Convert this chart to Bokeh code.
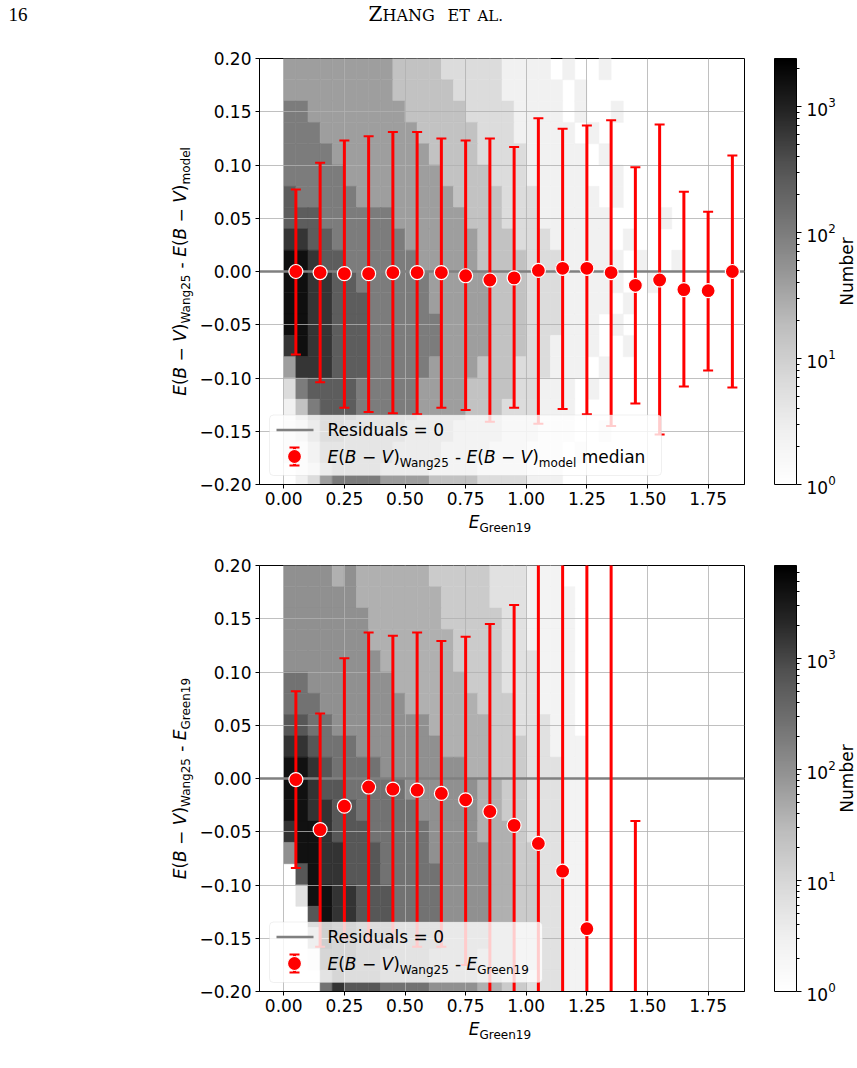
import numpy as np
from bokeh.embed import file_html
from bokeh.layouts import column, row
from bokeh.models import (BoxAnnotation, ColorBar, ColumnDataSource, CustomJSTickFormatter,
                          FixedTicker, Label, LogColorMapper, LogTickFormatter, Range1d, Span)
from bokeh.palettes import Greys9
from bokeh.plotting import figure
from bokeh.resources import INLINE
from bokeh.transform import transform

# ---------------------------------------------------------------- data
bin_centers = [0.05, 0.15, 0.25, 0.35, 0.45, 0.55, 0.65, 0.75, 0.85, 0.95,
               1.05, 1.15, 1.25, 1.35, 1.45, 1.55, 1.65, 1.75, 1.85]

# E(B-V)_Wang25 - E(B-V)_model : median and spread per E_Green19 bin
model_median = [0.000, -0.001, -0.002, -0.002, -0.001, -0.001, -0.001, -0.004, -0.008, -0.006,
                0.001, 0.003, 0.003, -0.001, -0.013, -0.008, -0.017, -0.018, 0.000]
model_upper = [0.077, 0.102, 0.123, 0.127, 0.131, 0.131, 0.125, 0.123, 0.125, 0.117,
               0.144, 0.134, 0.137, 0.142, 0.098, 0.138, 0.075, 0.056, 0.109]
model_lower = [-0.078, -0.104, -0.128, -0.132, -0.133, -0.134, -0.128, -0.130, -0.141, -0.128,
               -0.143, -0.129, -0.134, -0.145, -0.124, -0.153, -0.108, -0.093, -0.109]

# E(B-V)_Wang25 - E_Green19 : median and spread per E_Green19 bin
green_centers = bin_centers[:15]
green_median = [-0.001, -0.048, -0.026, -0.008, -0.010, -0.011, -0.014, -0.020, -0.031, -0.044,
                -0.061, -0.087, -0.141, -0.230, -0.300]
green_upper = [0.082, 0.061, 0.113, 0.137, 0.134, 0.137, 0.129, 0.133, 0.145, 0.163,
               0.240, 0.270, 0.310, 0.340, -0.040]
green_lower = [-0.084, -0.158, -0.150, -0.152, -0.150, -0.158, -0.158, -0.175, -0.250, -0.270,
               -0.300, -0.330, -0.380, -0.420, -0.450]

residual_zero = 0.0

x_ticks = [0.0, 0.25, 0.5, 0.75, 1.0, 1.25, 1.5, 1.75]
y_ticks = [-0.2, -0.15, -0.1, -0.05, 0.0, 0.05, 0.1, 0.15, 0.2]
count_ticks = [1, 10, 100, 1000]
count_minor_ticks = [m * 10 ** k for k in range(4) for m in range(2, 10)]

# Star counts behind each comparison, on a coarse grid: rows run from y = +0.20 down
# to -0.20 in steps of 0.02, columns from x = 0 to 1.9 in steps of 0.05.
# A digit d stands for log10(count) = 0.4 * d; 0 is an empty cell.
model_density = [
    "44444 44443 33322 22211 11010 01000 00000 000",
    "44444 44443 33332 22211 11101 00000 00000 000",
    "55444 44444 33333 22221 11101 00100 00000 000",
    "55544 44444 43333 32221 11110 10000 00000 000",
    "55554 44444 44333 32222 11111 01000 00000 000",
    "55555 44444 44433 33222 11111 00100 00000 000",
    "65555 54444 44443 33322 21111 10100 00000 000",
    "66655 55554 44444 33322 21111 11000 01000 000",
    "77665 55555 44444 43332 22111 11010 00000 000",
    "88766 55555 54444 43333 22211 11101 00100 000",
    "88776 65555 55444 44333 22211 11100 10000 000",
    "88776 66555 55444 44333 22211 11010 00000 000",
    "88776 66555 55544 44333 22211 10100 00000 000",
    "78776 66555 55544 44333 22111 10010 00000 000",
    "47776 66555 55444 43332 22111 01000 00000 000",
    "25666 65555 54444 33332 21110 10000 00000 000",
    "13566 65555 54444 33322 21110 00000 00000 000",
    "12466 55555 44443 33322 21110 01000 00000 000",
    "11355 55554 44433 33222 11101 00000 00000 000",
    "01245 55544 44333 32222 11100 00000 00000 000",
]
green_density = [
    "55554 54444 44333 33222 11100 00000 00000 000",
    "55555 54444 44433 33222 11110 00000 00000 000",
    "55555 55444 44433 33322 11110 00000 00000 000",
    "55555 55444 44443 33322 11110 00000 00000 000",
    "55555 55544 44443 33322 21110 00000 00000 000",
    "66555 55554 44444 33322 21110 00000 00000 000",
    "66655 55555 44444 43332 21110 00000 00000 000",
    "77665 55555 55444 44332 22110 00000 00000 000",
    "88766 65555 55544 44333 22111 00000 00000 000",
    "99876 66655 55555 44333 22211 00000 00000 000",
    "99877 66666 55555 54433 22211 00000 00000 000",
    "99887 76666 65555 54433 22211 00000 00000 000",
    "89987 77666 66555 54443 22211 00000 00000 000",
    "59988 77766 66555 55443 32211 00000 00000 000",
    "07988 77766 66655 55443 32211 00000 00000 000",
    "02998 87776 66655 55443 32211 00000 00000 000",
    "00798 87776 66655 55443 32211 00000 00000 000",
    "00498 87776 66655 55443 32211 00000 00000 000",
    "00188 87766 66555 54443 32211 00000 00000 000",
    "00068 77766 66555 54433 22211 00000 00000 000",
]
model_count_max = 2400
green_count_max = 6900

# ---------------------------------------------------------------- geometry / style
PAGE_W = 857
FW, FH = 485, 426                 # plot frame
LEFT_W, BORDER_L = 196, 61        # y-title strip, tick-label border
BORDER_R = 4
RIGHT_W = PAGE_W - LEFT_W - BORDER_L - FW - BORDER_R   # colour-bar strip
CBAR_X, CBAR_W, NUMBER_X = 26, 22, 98
HEADER_H = 40
X_RANGE = (-0.1, 1.9)
Y_RANGE = (-0.2, 0.2)
GRID_X0, GRID_DX, GRID_Y0, GRID_DY, LEVEL_STEP = 0.0, 0.05, 0.2, 0.02, 0.4

FONT = "DejaVu Sans"
MAIN, SUB, SUB_SHIFT = 17, 12, 4
BASELINE_FIX = 0.36               # em; lifts Label anchors onto the intended baseline
XLABEL_DROP = 17                  # x-title baseline, pixels below the tick-label border

# Greys colour map, white for low counts to black for high counts
grey_levels = [int(c[1:3], 16) for c in Greys9][::-1]
grey_vals = np.interp(np.linspace(0, 1, 256), np.linspace(0, 1, len(grey_levels)), grey_levels)
GREYS = ["#%02x%02x%02x" % (v, v, v) for v in np.round(grey_vals).astype(int)]

# DejaVu Sans advance widths (em), used to lay out sub-scripted labels piece by piece
ADV = {" ": 0.318, "(": 0.390, ")": 0.390, "-": 0.361, "\u2212": 0.838, "=": 0.838,
       "B": 0.686, "E": 0.632, "G": 0.776, "N": 0.748, "R": 0.695, "V": 0.684, "W": 0.989,
       "a": 0.613, "b": 0.635, "d": 0.635, "e": 0.615, "g": 0.635, "i": 0.278, "l": 0.278,
       "m": 0.974, "n": 0.634, "o": 0.612, "r": 0.411, "s": 0.521, "u": 0.634}


def text_width(t, size):
    return sum(ADV.get(c, 0.636) for c in t) * size


def frame_x(px):
    return X_RANGE[0] + px * (X_RANGE[1] - X_RANGE[0]) / FW


def frame_y(py):
    return Y_RANGE[0] + py * (Y_RANGE[1] - Y_RANGE[0]) / FH


def ident(v):
    return v


def ebv(sub):
    return [("E", True, False), ("(", False, False), ("B", True, False), (" \u2212 ", False, False),
            ("V", True, False), (")", False, False), (sub, False, True)]


def rich_text(p, pieces, x, y, align="left", vertical=False, cx=ident, cy=ident):
    """Lay out (text, italic, subscript) pieces; x, y in pixels from the bottom-left."""
    widths = [text_width(t, SUB if sub else MAIN) for t, _, sub in pieces]
    pos = y if vertical else x
    if align == "center":
        pos -= sum(widths) / 2
    for (t, italic, sub), w in zip(pieces, widths):
        size = SUB if sub else MAIN
        stripped = t.lstrip(" ")
        lead = text_width(t[:len(t) - len(stripped)], size)
        shift = (SUB_SHIFT if sub else 0) - BASELINE_FIX * size
        if vertical:
            lx, ly, ang = x + shift, pos + lead, np.pi / 2
        else:
            lx, ly, ang = pos + lead, y - shift, 0
        p.add_layout(Label(x=cx(lx), y=cy(ly), text=stripped.rstrip(" "), angle=ang,
                           text_font=FONT, text_font_size=f"{size}px",
                           text_font_style="italic" if italic else "normal",
                           text_align="left", text_baseline="alphabetic", text_color="black"))
        pos += w


def strip(w, h):
    """A blank canvas whose data units are pixels, for titles around the plots."""
    f = figure(width=w, height=h, x_range=Range1d(0, w), y_range=Range1d(0, h),
               output_backend="svg", toolbar_location=None, min_border=0, title=None,
               x_axis_location=None, y_axis_location=None, frame_align=False)
    f.grid.visible = False
    f.outline_line_color = None
    f.background_fill_color = "white"
    f.border_fill_color = "white"
    return f


def make_panel(density, mapper, centers, median, upper, lower, legend_label,
               legend_right, border_top, border_bottom):
    p = figure(frame_width=FW, frame_height=FH, x_range=Range1d(*X_RANGE), y_range=Range1d(*Y_RANGE),
               output_backend="svg", toolbar_location=None, title=None, frame_align=False,
               min_border_left=BORDER_L, min_border_right=BORDER_R,
               min_border_top=border_top, min_border_bottom=border_bottom)
    p.outline_line_color = "black"
    p.outline_line_alpha = 1
    p.background_fill_color = "white"

    tick_fmt = CustomJSTickFormatter(code="""
        const s = Math.abs(tick).toFixed(2);
        return (tick < -1e-9 ? "\u2212" : "") + s;
    """)
    p.xaxis.ticker = FixedTicker(ticks=x_ticks)
    p.yaxis.ticker = FixedTicker(ticks=y_ticks)
    p.axis.formatter = tick_fmt
    p.axis.axis_line_color = "black"
    p.axis.major_tick_line_color = "black"
    p.axis.major_tick_in = 0
    p.axis.major_tick_out = 4
    p.axis.minor_tick_line_color = None
    p.axis.major_label_text_font = FONT
    p.axis.major_label_text_font_size = f"{MAIN}px"
    p.axis.major_label_text_color = "black"
    p.xaxis.major_label_standoff = 3
    p.yaxis.major_label_standoff = 4
    p.grid.grid_line_color = "#b0b0b0"
    p.grid.grid_line_alpha = 0.8
    p.grid.grid_line_width = 1

    # density tiles
    xs, ys, counts = [], [], []
    for r, row_digits in enumerate(density):
        digits = row_digits.replace(" ", "")
        assert len(digits) == 38
        for c, d in enumerate(digits):
            if d != "0":
                xs.append(GRID_X0 + (c + 0.5) * GRID_DX)
                ys.append(GRID_Y0 - (r + 0.5) * GRID_DY)
                counts.append(10 ** (LEVEL_STEP * int(d)))
    tiles = ColumnDataSource(dict(x=xs, y=ys, count=counts))
    p.rect(x="x", y="y", width=GRID_DX, height=GRID_DY, source=tiles,
           fill_color=transform("count", mapper), line_color=transform("count", mapper),
           line_width=0.6, level="image")

    p.add_layout(Span(location=residual_zero, dimension="width", line_color="#808080",
                      line_width=2.5, level="underlay"))

    # binned medians with error bars
    src = ColumnDataSource(dict(x=centers, med=median, up=upper, lo=lower))
    p.segment(x0="x", y0="lo", x1="x", y1="up", source=src, line_color="red", line_width=3)
    p.scatter(x="x", y="up", source=src, marker="dash", size=10, line_color="red", line_width=2)
    p.scatter(x="x", y="lo", source=src, marker="dash", size=10, line_color="red", line_width=2)
    p.scatter(x="x", y="med", source=src, marker="circle", size=14, fill_color="red",
              line_color="white", line_width=1.2)

    # legend
    p.add_layout(BoxAnnotation(left=frame_x(10), right=frame_x(legend_right), top=frame_y(69.5),
                               bottom=frame_y(9), fill_color="white", fill_alpha=0.8,
                               line_color="#cccccc", line_width=1, border_radius=4))
    p.line(x=[frame_x(17), frame_x(54)], y=[frame_y(54.5), frame_y(54.5)], line_color="#808080",
           line_width=2.5, level="overlay")
    mx, my = frame_x(35), frame_y(28)
    p.segment(x0=[mx], y0=[frame_y(19)], x1=[mx], y1=[frame_y(37)], line_color="red", line_width=3,
              level="overlay")
    p.scatter(x=[mx, mx], y=[frame_y(19), frame_y(37)], marker="dash", size=10, line_color="red",
              line_width=2, level="overlay")
    p.scatter(x=[mx], y=[my], marker="circle", size=14, fill_color="red", line_color="white",
              line_width=1.2, level="overlay")
    rich_text(p, [("Residuals = 0", False, False)], 68, 48, cx=frame_x, cy=frame_y)
    rich_text(p, legend_label, 68, 21.5, cx=frame_x, cy=frame_y)
    return p


def panel_row(p, mapper, height, border_bottom, ylabel):
    left = strip(LEFT_W, height)
    rich_text(left, ylabel, 186, border_bottom + FH / 2, align="center", vertical=True)

    right = strip(RIGHT_W, height)
    cb = ColorBar(color_mapper=mapper, ticker=FixedTicker(ticks=count_ticks, minor_ticks=count_minor_ticks),
                  formatter=LogTickFormatter(), width=CBAR_W, height=FH,
                  location=(CBAR_X, border_bottom), margin=0, padding=0,
                  bar_line_color="black", bar_line_width=1,
                  major_tick_line_color="black", major_tick_in=0, major_tick_out=5,
                  minor_tick_line_color="black", minor_tick_in=0, minor_tick_out=3,
                  major_label_text_font=FONT, major_label_text_font_size=f"{MAIN}px",
                  major_label_text_color="black", label_standoff=5,
                  background_fill_alpha=0, border_line_color=None)
    right.add_layout(cb, "center")
    right.add_layout(Label(x=NUMBER_X, y=border_bottom + FH / 2, text="Number", angle=np.pi / 2,
                           text_font=FONT, text_font_size=f"{MAIN}px", text_align="center",
                           text_baseline="middle", text_color="black"))
    return row(left, p, right)


def xlabel_strip(height, baseline_from_bottom):
    s = strip(PAGE_W, height)
    rich_text(s, [("E", True, False), ("Green19", False, True)],
              LEFT_W + BORDER_L + FW / 2, baseline_from_bottom, align="center")
    return s


# running page header
header = strip(PAGE_W, HEADER_H)
for txt, px, size, font in [("16", 8, 19, "Liberation Serif"), ("Z", 368, 20, "DejaVu Serif"),
                            ("HANG", 382, 16, "DejaVu Serif"), ("ET", 447, 16, "DejaVu Serif"),
                            ("AL.", 477, 15, "DejaVu Serif")]:
    header.add_layout(Label(x=px, y=HEADER_H - 21 + BASELINE_FIX * size, text=txt, text_font=font,
                            text_font_size=f"{size}px", text_align="left", text_baseline="alphabetic",
                            text_color="black"))

TOP_BORDER_1, BOTTOM_BORDER = 18, 27
TOP_BORDER_2 = 25
H1 = TOP_BORDER_1 + FH + BOTTOM_BORDER
H2 = TOP_BORDER_2 + FH + BOTTOM_BORDER

model_mapper = LogColorMapper(palette=GREYS, low=1, high=model_count_max)
green_mapper = LogColorMapper(palette=GREYS, low=1, high=green_count_max)

top = make_panel(model_density, model_mapper, bin_centers, model_median, model_upper, model_lower,
                 ebv("Wang25") + [(" - ", False, False)] + ebv("model") + [(" median", False, False)],
                 402, TOP_BORDER_1, BOTTOM_BORDER)
bottom = make_panel(green_density, green_mapper, green_centers, green_median, green_upper, green_lower,
                    ebv("Wang25") + [(" - ", False, False), ("E", True, False), ("Green19", False, True)],
                    283, TOP_BORDER_2, BOTTOM_BORDER)

top_row = panel_row(top, model_mapper, H1, BOTTOM_BORDER, ebv("Wang25") + [(" - ", False, False)] + ebv("model"))
bottom_row = panel_row(bottom, green_mapper, H2, BOTTOM_BORDER,
                       ebv("Wang25") + [(" - ", False, False), ("E", True, False), ("Green19", False, True)])
gap = 540 - HEADER_H - H1
tail = 1068 - 540 - H2
page = column(header, top_row, xlabel_strip(gap, gap - XLABEL_DROP), bottom_row,
              xlabel_strip(tail, tail - XLABEL_DROP))
open("out.html", "w").write(file_html(page, INLINE))
